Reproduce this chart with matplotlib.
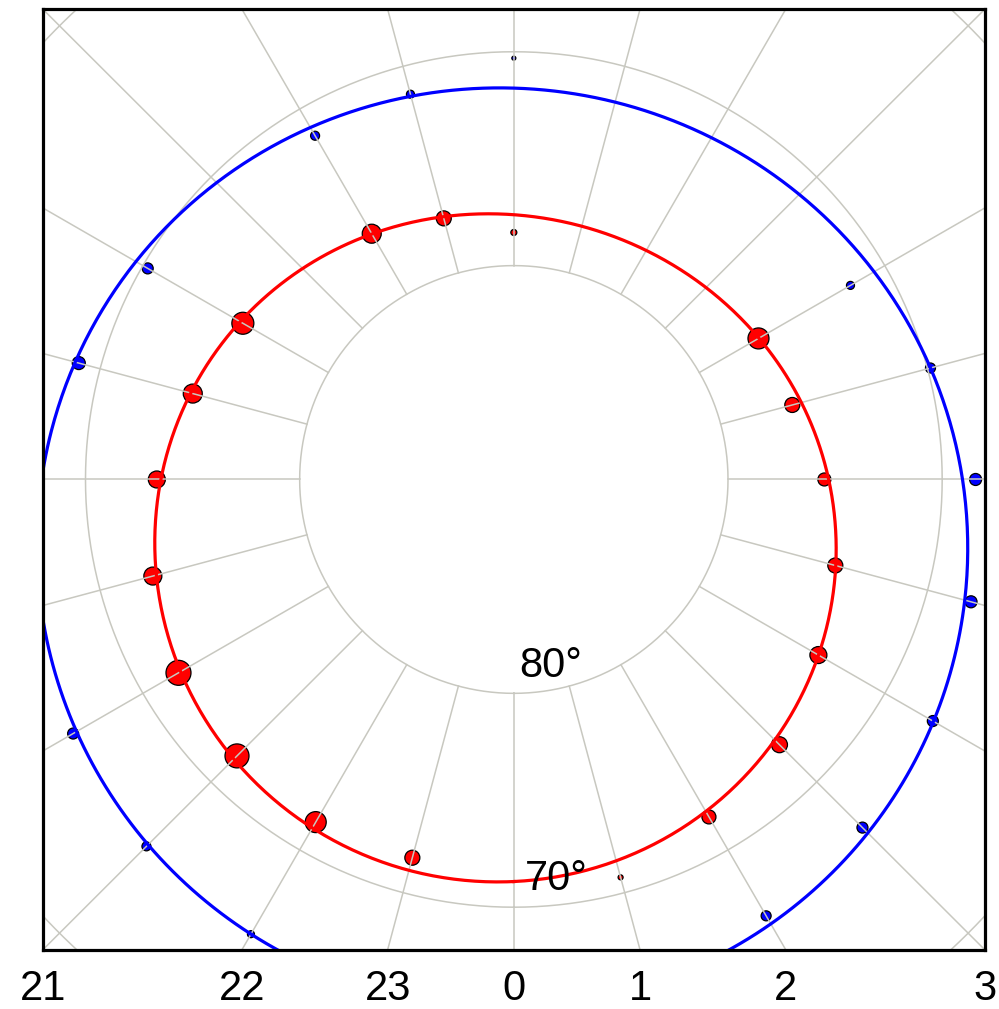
import numpy as np
import matplotlib
matplotlib.use('Agg')
import matplotlib.pyplot as plt

plt.rcParams['font.family'] = ['Liberation Sans', 'DejaVu Sans']

# boundary points per MLT hour: colatitude (deg) and point weight
red_mlt = [1, 2, 3, 4, 5, 6, 7, 8, 12, 13, 14, 16, 17, 18, 19, 20, 21, 22, 23]
red_colat = [19.26, 18.22, 17.54, 16.42, 15.54, 14.5, 13.46, 13.19, 11.55, 12.64,
             13.27, 14.61, 15.52, 16.67, 17.45, 18.08, 18.28, 18.5, 18.31]
red_weight = [5, 14, 16, 17, 15, 13, 15, 21, 6, 15, 19, 22, 19, 17, 18, 25, 24, 21, 15]

blue_mlt = [2, 3, 4, 5, 6, 7, 8, 12, 13, 14, 16, 17, 20, 21, 22]
blue_colat = [23.56, 23.02, 22.59, 22.1, 21.56, 20.14, 18.15, 19.7, 18.65, 18.56,
              19.74, 21.03, 23.76, 24.26, 24.55]
blue_weight = [10, 11, 11, 12, 12, 10, 8, 4, 8, 9, 11, 13, 11, 9, 7]

# first order fourier fits: colat = a0 + a1*cos(phi) + b1*sin(phi)
red_fit = [15.59, 3.21, -0.89]
blue_fit = [21.5, 3.2, -0.55]

tick_hours = [21, 22, 23, 0, 1, 2, 3]
lat_circles = [80, 70, 60]
lat_labels = ['80°', '70°']
lat_label_pos = [(8.9, 0.75), (18.8, 0.4)]  # (colat, mlt)

edge = 22.0  # colatitude at box edge


def to_xy(mlt, colat):
    phi = np.radians(np.asarray(mlt, dtype=float) * 15.0)
    colat = np.asarray(colat, dtype=float)
    return colat * np.sin(phi), -colat * np.cos(phi)


fig = plt.figure(figsize=(9.99, 10.09), dpi=100)
ax = fig.add_axes([0.0427, 0.0585, 0.9433, 0.9326])

grid_col = '#c8c8c0'

# fitted ovals
phi = np.linspace(0, 2 * np.pi, 721)
for fit, col in [(red_fit, '#ff0000'), (blue_fit, '#0000ff')]:
    c = fit[0] + fit[1] * np.cos(phi) + fit[2] * np.sin(phi)
    ax.plot(c * np.sin(phi), -c * np.cos(phi), color=col, lw=2.3, zorder=4)

# points
for mlt, colat, w, col in [(red_mlt, red_colat, red_weight, '#ff0000'),
                           (blue_mlt, blue_colat, blue_weight, '#0000ff')]:
    x, y = to_xy(mlt, colat)
    s = (np.array(w) * 0.72) ** 2
    ax.scatter(x, y, s=s, color=col, edgecolors='black', linewidths=0.9, zorder=2)

# grid: latitude circles and MLT meridians
for lat in lat_circles:
    r = 90 - lat
    ax.plot(r * np.sin(phi), -r * np.cos(phi), color=grid_col, lw=1.1, zorder=3)
for h in range(24):
    x, y = to_xy([h, h], [10, 40])
    ax.plot(x, y, color=grid_col, lw=1.1, zorder=3)

for txt, (colat, mlt) in zip(lat_labels, lat_label_pos):
    x, y = to_xy(mlt, colat)
    ax.text(x, y, txt, fontsize=30, ha='center', va='center', zorder=5)

ax.set_xlim(-edge, edge)
ax.set_ylim(-edge, edge)

# hour labels where the meridians meet the bottom edge
tick_x = [edge * np.tan(np.radians(h * 15.0)) if h < 12 else
          edge * np.tan(np.radians((h - 24) * 15.0)) for h in tick_hours]
ax.set_xticks(tick_x)
ax.set_xticklabels([str(h) for h in tick_hours], fontsize=30)
ax.set_yticks([])
ax.tick_params(axis='x', length=0, pad=14)
for sp in ax.spines.values():
    sp.set_linewidth(2.3)
    sp.set_color('black')
    sp.set_zorder(6)

fig.savefig('out.png', dpi=100)
